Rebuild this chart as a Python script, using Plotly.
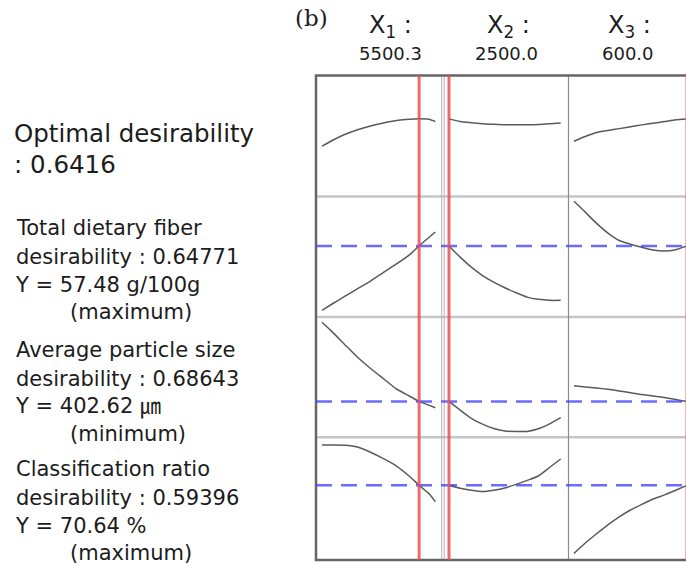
import plotly.graph_objects as go

W, H = 686, 565

# ---- factor settings at the optimum ----
factor_labels = ["X<sub>1</sub> :", "X<sub>2</sub> :", "X<sub>3</sub> :"]
factor_opt = [5500.3, 2500.0, 600.0]

# ---- response profiles over each factor (others held at optimum) ----
x1_grid = [2500, 2800, 3200, 3600, 4000, 4400, 4800, 5200, 5500.3, 5800, 6000]
x2_grid = [2500, 2750, 3000, 3250, 3500, 3750, 4000, 4250, 4500, 4750, 5000]
x3_grid = [200, 240, 280, 320, 360, 400, 440, 480, 520, 560, 600]

# composite desirability
comp_x1 = [0.416, 0.461, 0.512, 0.551, 0.583, 0.608, 0.628, 0.639, 0.6416, 0.639, 0.620]
comp_x2 = [0.6416, 0.620, 0.610, 0.602, 0.597, 0.593, 0.593, 0.593, 0.595, 0.602, 0.607]
comp_x3 = [0.457, 0.496, 0.529, 0.546, 0.561, 0.576, 0.592, 0.606, 0.619, 0.634, 0.6416]

# total dietary fiber (g/100g)
fiber_x1 = [51.07, 51.67, 52.45, 53.22, 53.98, 54.85, 55.68, 56.59, 57.48, 58.32, 58.87]
fiber_x2 = [57.48, 56.36, 55.36, 54.53, 53.87, 53.31, 52.82, 52.38, 52.16, 52.06, 52.06]
fiber_x3 = [61.92, 60.84, 59.72, 58.76, 58.02, 57.65, 57.34, 57.07, 56.97, 57.10, 57.48]

# average particle size (um)
size_x1 = [534.2, 519.1, 497.4, 476.0, 457.4, 440.3, 423.3, 411.7, 402.62, 396.5, 392.2]
size_x2 = [402.62, 388.2, 374.6, 364.8, 357.5, 353.3, 352.6, 352.8, 357.1, 365.3, 375.6]
size_x3 = [428.8, 426.8, 425.0, 422.8, 420.1, 417.0, 414.0, 411.8, 409.0, 406.0, 402.62]

# classification ratio (%)
ratio_x1 = [77.24, 77.24, 77.21, 76.91, 76.06, 75.0, 73.80, 72.13, 70.64, 69.30, 67.96]
ratio_x2 = [70.64, 70.15, 69.83, 69.63, 69.83, 70.20, 70.79, 71.45, 72.17, 73.56, 74.95]
ratio_x3 = [59.51, 61.20, 62.71, 64.16, 65.47, 66.60, 67.53, 68.40, 69.07, 69.84, 70.64]

# ---- summary values ----
optimal_d = 0.6416
resp_names = ["Total dietary fiber", "Average particle size", "Classification ratio"]
resp_d = [0.64771, 0.68643, 0.59396]
resp_y = [57.48, 402.62, 70.64]
resp_units = ["g/100g", "\u339b", "%"]
resp_goal = ["(maximum)", "(minimum)", "(maximum)"]

grids = [x1_grid, x2_grid, x3_grid]
profiles = [
    [comp_x1, comp_x2, comp_x3],
    [fiber_x1, fiber_x2, fiber_x3],
    [size_x1, size_x2, size_x3],
    [ratio_x1, ratio_x2, ratio_x3],
]

# ---- panel geometry (pixels) ----
col_px = [(316, 442.5), (442.5, 568.5), (568.5, 686)]
# factor value -> pixel anchors for each column
col_anchor = [((2500, 322), (6000, 435.3)),
              ((2500, 449), (5000, 560.7)),
              ((200, 574), (600, 687))]
row_px = [(75.5, 196.5), (196.5, 317), (317, 437.3), (437.3, 559.5)]
row_range = [(0, 1), (50.4, 62.4), (343, 543), (58.5, 78.5)]


def px_x(p):
    return p / W


def px_y(p):
    return 1 - p / H


def col_range(c):
    (v0, p0), (v1, p1) = col_anchor[c]
    s = (v1 - v0) / (p1 - p0)
    a, b = col_px[c]
    return [v0 - (p0 - a) * s, v0 + (b - p0) * s]


fig = go.Figure()
layout = dict(width=W, height=H, margin=dict(l=0, r=0, t=0, b=0),
              paper_bgcolor="white", plot_bgcolor="white", showlegend=False)

for r in range(4):
    for c in range(3):
        k = r * 3 + c + 1
        sfx = "" if k == 1 else str(k)
        layout["xaxis" + sfx] = dict(domain=[px_x(col_px[c][0]), px_x(col_px[c][1])],
                                     range=col_range(c), visible=False,
                                     anchor="y" + sfx, fixedrange=True)
        layout["yaxis" + sfx] = dict(domain=[px_y(row_px[r][1]), px_y(row_px[r][0])],
                                     range=list(row_range[r]), visible=False,
                                     anchor="x" + sfx, fixedrange=True)
        fig.add_trace(go.Scatter(x=grids[c], y=profiles[r][c], mode="lines",
                                 line=dict(color="#5a5a5a", width=1.5,
                                           shape="spline", smoothing=0.6),
                                 xaxis="x" + sfx, yaxis="y" + sfx,
                                 hoverinfo="skip"))

shapes = []
frame_top, frame_bot, frame_left = 75.5, 560, 316
# separators between rows
for yy in (196.5, 317, 437.3):
    shapes.append(dict(type="line", xref="paper", yref="paper",
                       x0=px_x(frame_left), x1=1.05, y0=px_y(yy), y1=px_y(yy),
                       line=dict(color="#c6c6c6", width=2.5)))
# separators between columns
for xx, col, wd in ((441.7, "#b4b4b4", 1), (444.2, "#b4b4b4", 1), (568.5, "#8c8c8c", 1.2)):
    shapes.append(dict(type="line", xref="paper", yref="paper",
                       x0=px_x(xx), x1=px_x(xx), y0=px_y(frame_top), y1=px_y(frame_bot),
                       line=dict(color=col, width=wd)))
# outer frame
shapes.append(dict(type="rect", xref="paper", yref="paper",
                   x0=px_x(frame_left), x1=1.05, y0=px_y(frame_bot), y1=px_y(frame_top),
                   line=dict(color="#666666", width=2.5)))
# response values at the optimum (blue dashed)
for i in range(3):
    yref = "y" + str((i + 1) * 3 + 1)
    shapes.append(dict(type="line", xref="paper", yref=yref,
                       x0=px_x(frame_left), x1=1.0, y0=resp_y[i], y1=resp_y[i],
                       line=dict(color="rgba(70,70,255,0.8)", width=2.5, dash="16px,9px")))
# optimal factor settings (red)
for c in range(3):
    xref = "x" if c == 0 else "x" + str(c + 1)
    shapes.append(dict(type="line", xref=xref, yref="paper",
                       x0=factor_opt[c], x1=factor_opt[c],
                       y0=px_y(frame_bot), y1=px_y(frame_top),
                       line=dict(color="rgba(232,80,85,0.85)", width=3)))
layout["shapes"] = shapes

FONT = "DejaVu Sans, Noto Sans CJK KR, sans-serif"
TXT = "#1c1c1c"
ann = []


def text(s, x, y, size, xanchor="left", family=FONT):
    ann.append(dict(text=s, xref="paper", yref="paper", x=px_x(x), y=px_y(y),
                    xanchor=xanchor, yanchor="middle", showarrow=False,
                    font=dict(family=family, size=size, color=TXT)))


# panel label
text("(b)", 311, 18, 23, "center", "DejaVu Serif, Liberation Serif, serif")

# factor headers
head_x = [(390, 390), (509, 506), (629, 628)]
for c in range(3):
    text(factor_labels[c], head_x[c][0], 26, 24, "center")
    text(f"{factor_opt[c]:.1f}", head_x[c][1], 54, 18, "center")

# left-hand summary
text("Optimal desirability", 12, 133, 24.5)
text(f": {optimal_d:.4f}", 12, 164, 24.5)
block_y = [228, 350, 469]
for i in range(3):
    y0 = block_y[i]
    text(resp_names[i], 14, y0, 21)
    text(f"desirability : {resp_d[i]:.5f}", 14, y0 + 28.5, 21)
    text(f"Y = {resp_y[i]:.2f} {resp_units[i]}", 13, y0 + 56.5, 21)
    text(resp_goal[i], 68, y0 + 83.5, 21)

layout["annotations"] = ann
fig.update_layout(**layout)
fig.write_html("out.html")
